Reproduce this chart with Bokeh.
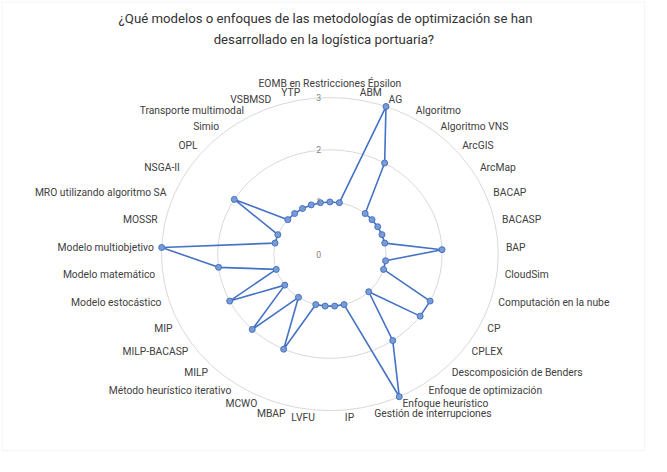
import math
from bokeh.plotting import figure
from bokeh.models import ColumnDataSource, Range1d, Label, BoxAnnotation
from bokeh.embed import file_html
from bokeh.resources import INLINE

# ---------------- data ----------------
categories = [
    "EOMB en Restricciones Épsilon", "ABM", "AG", "Algoritmo", "Algoritmo VNS",
    "ArcGIS", "ArcMap", "BACAP", "BACASP", "BAP", "CloudSim",
    "Computación en la nube", "CP", "CPLEX", "Descomposición de Benders",
    "Enfoque de optimización", "Enfoque heurístico", "Gestión de interrupciones",
    "IP", "LVFU", "MBAP", "MCWO", "Método heurístico iterativo", "MILP",
    "MILP-BACASP", "MIP", "Modelo estocástico", "Modelo matemático",
    "Modelo multiobjetivo", "MOSSR", "MRO utilizando algoritmo SA", "NSGA-II",
    "OPL", "Simio", "Transporte multimodal", "VSBMSD", "YTP",
]
values = [1, 1, 3, 2, 1, 1, 1, 1, 1, 2, 1, 1, 2, 2, 1, 2, 3, 1, 1, 1, 1, 2,
          1, 2, 1, 2, 1, 2, 3, 1, 1, 2, 1, 1, 1, 1, 1]
ring_levels = [1, 2, 3]
tick_values = [0, 1, 2, 3]
tick_labels = ["0", "1", "2", "3"]
title_lines = [
    "¿Qué modelos o enfoques de las metodologías de optimización se han",
    "desarrollado  en la logística portuaria?",
]

# ---------------- layout ----------------
W, H = 651, 456
cx_px, cy_px = 329.4, 253.6          # centre of the radar in figure pixels
ux, uy = 56.12, 52.17                # pixels per value unit (x, y)
vmax = max(ring_levels)

x_range = Range1d(-cx_px / ux, (W - cx_px) / ux)
y_range = Range1d(-(H - cy_px) / uy, cy_px / uy)

p = figure(width=W, height=H, x_range=x_range, y_range=y_range,
           output_backend="svg", toolbar_location=None, min_border=0,
           background_fill_color="white", border_fill_color="white")
p.axis.visible = False
p.grid.visible = False
p.outline_line_color = None

# chart-area border
def px2x(px):
    return (px - cx_px) / ux

def px2y(py):
    return (cy_px - py) / uy

p.add_layout(BoxAnnotation(left=px2x(1.5), right=px2x(644.2), top=px2y(1.5), bottom=px2y(450.2),
                           fill_alpha=0, line_color="#d9d9d9", line_width=1))

n = len(categories)
angles = [2 * math.pi * i / n for i in range(n)]

# gridline rings
ring_src = ColumnDataSource(dict(x=[0] * len(ring_levels), y=[0] * len(ring_levels),
                                 w=[2 * r for r in ring_levels], h=[2 * r for r in ring_levels]))
p.ellipse(x="x", y="y", width="w", height="h", source=ring_src,
          fill_color=None, line_color="#d9d9d9", line_width=1)

# series
xs = [v * math.sin(a) for v, a in zip(values, angles)]
ys = [v * math.cos(a) for v, a in zip(values, angles)]
p.line(xs + xs[:1], ys + ys[:1], line_color="#4472C4", line_width=1.6)
p.scatter(xs, ys, size=6, marker="circle", fill_color="#7B9BD5",
          line_color="#4472C4", line_width=1)

# category labels
lx, ly, xo, yo, al, bl = [], [], [], [], [], []
for a in angles:
    s, c = math.sin(a), math.cos(a)
    lx.append(vmax * s)
    ly.append(vmax * c)
    xo.append(7.8 * s)
    yo.append(-7.8 * c)
    if s > 1e-6:
        al.append("left")
    elif s < -1e-6:
        al.append("right")
    else:
        al.append("center")
    bl.append("bottom" if (abs(s) < 1e-6 and c > 0) else "middle")
lab_src = ColumnDataSource(dict(x=lx, y=ly, text=categories, xo=xo, yo=yo, al=al, bl=bl))
p.text(x="x", y="y", text="text", source=lab_src, x_offset="xo", y_offset="yo",
       text_align="al", text_baseline="bl", text_font_size="10.3px",
       text_font={"value": "Roboto"}, text_color="#404040")

# value axis tick labels
tick_src = ColumnDataSource(dict(x=[0] * len(tick_values), y=tick_values, text=tick_labels))
p.text(x="x", y="y", text="text", source=tick_src, x_offset=-11.2,
       text_align="center", text_baseline="middle", text_font_size="8.7px",
       text_font={"value": "Roboto"}, text_color="#7f7f7f")

# title
for i, line in enumerate(title_lines):
    p.add_layout(Label(x=325, y=H - 18.4 - 20.2 * i, x_units="screen", y_units="screen",
                       text=line, text_align="center", text_baseline="middle",
                       text_font_size="13.2px", text_font="Roboto", text_color="#333333"))

open("out.html", "w").write(file_html(p, INLINE))
